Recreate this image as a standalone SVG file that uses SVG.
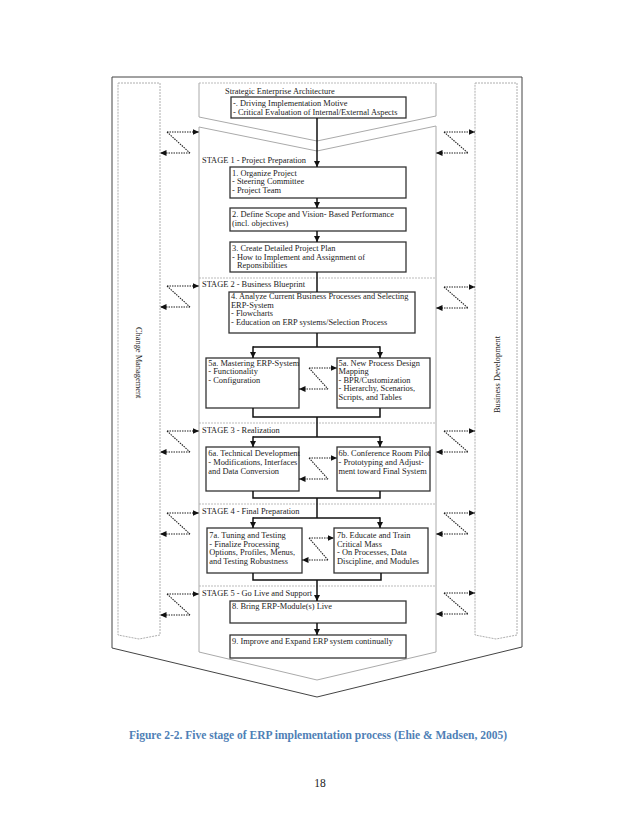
<svg xmlns="http://www.w3.org/2000/svg" width="638" height="826" viewBox="0 0 638 826">
<style>
text{font-family:"Liberation Serif","Times New Roman",serif;font-size:8.4px;fill:#222}
.box{fill:#fff;stroke:#333;stroke-width:1.3}
.chev{fill:none;stroke:#aaa;stroke-width:1}
.col{fill:#fff;stroke:#999;stroke-width:0.8;stroke-dasharray:2 1}
.sep{fill:none;stroke:#aaa;stroke-width:0.8;stroke-dasharray:2 1}
.ln{fill:none;stroke:#111;stroke-width:1.5}
.ar{fill:none;stroke:#111;stroke-width:1.5;marker-end:url(#ah)}
.dt{fill:none;stroke:#222;stroke-width:1.1;stroke-dasharray:1.5 1}
.da{fill:none;stroke:#222;stroke-width:1.1;stroke-dasharray:1.5 1;marker-end:url(#dh)}
.cap{font-size:11.5px;font-weight:bold;fill:#4f7fb6}
</style>
<defs>
<marker id="ah" markerUnits="userSpaceOnUse" markerWidth="7" markerHeight="7" refX="6" refY="3" orient="auto"><path d="M0,0 L6,3 L0,6 z" fill="#111"/></marker>
<marker id="dh" markerUnits="userSpaceOnUse" markerWidth="8" markerHeight="7" refX="6.5" refY="3" orient="auto"><path d="M0,0 L6.5,3 L0,6 z" fill="#111"/></marker>
</defs>
<rect width="638" height="826" fill="#fff"/>

<g id="frame">
<polygon points="112,77 522,77 522,647 317,697 112,648" fill="none" stroke="#444" stroke-width="1"/>
</g>

<g id="change-management">
<polygon class="col" points="118,83 160,83 160,635 139,639 118,635"/>
<text transform="translate(136,327) rotate(90)">Change Management</text>
</g>

<g id="business-development">
<polygon class="col" points="475,83 517,83 517,635 496,639 475,635"/>
<text transform="translate(500,413) rotate(-90)">Business Development</text>
</g>

<g id="strategic">
<line class="sep" x1="199" y1="83" x2="436" y2="83"/>
<polyline class="chev" points="199,83 199,117 317,141 436,116 436,83"/>
<text x="225" y="93.5">Strategic Enterprise Architecture</text>
</g>

<g id="stages">
<polygon class="chev" points="199,127 317,151 436,126 436,652 317,680 199,652"/>
<line class="sep" x1="199" y1="278" x2="436" y2="278"/>
<line class="sep" x1="199" y1="423" x2="436" y2="423"/>
<line class="sep" x1="199" y1="504" x2="436" y2="504"/>
<line class="sep" x1="199" y1="586" x2="436" y2="586"/>
<text x="202" y="163">STAGE 1 - Project Preparation</text>
<text x="202" y="287">STAGE 2 - Business Blueprint</text>
<text x="202" y="433">STAGE 3 - Realization</text>
<text x="202" y="514">STAGE 4 - Final Preparation</text>
<text x="202" y="596">STAGE 5 - Go Live and Support</text>
</g>

<g id="box0">
<rect class="box" x="231" y="97" width="175" height="21"/>
<text x="233" y="106">-. Driving Implementation Motive</text>
<text x="233" y="115">- Critical Evaluation of Internal/External Aspects</text>
</g>

<g id="box1">
<rect class="box" x="230" y="167" width="176" height="31"/>
<text x="232" y="175.5">1. Organize Project</text>
<text x="232" y="184">- Steering Committee</text>
<text x="232" y="192.5">- Project Team</text>
</g>

<g id="box2">
<rect class="box" x="230" y="208" width="176" height="23"/>
<text x="232" y="217">2. Define Scope and Vision- Based Performance</text>
<text x="232" y="225.5">(incl. objectives)</text>
</g>

<g id="box3">
<rect class="box" x="230" y="242" width="176" height="30"/>
<text x="232" y="251">3. Create Detailed Project Plan</text>
<text x="232" y="259.5">- How to Implement and Assignment of</text>
<text x="237" y="268">Reponsibilities</text>
</g>

<g id="box4">
<rect class="box" x="229" y="292" width="186" height="41"/>
<text x="231" y="299">4. Analyze Current Business Processes and Selecting</text>
<text x="231" y="307.5">ERP-System</text>
<text x="231" y="316.3">- Flowcharts</text>
<text x="231" y="325">- Education on ERP systems/Selection Process</text>
</g>

<g id="box5a-left">
<rect class="box" x="206" y="358" width="93" height="50"/>
<text x="208.3" y="365.5">5a. Mastering ERP-System</text>
<text x="208.3" y="374">- Functionality</text>
<text x="208.3" y="382.5">- Configuration</text>
</g>

<g id="box5a-right">
<rect class="box" x="337" y="358" width="93" height="50"/>
<text x="338.5" y="365.5">5a. New Process Design</text>
<text x="338.5" y="374">Mapping</text>
<text x="338.5" y="382.5">- BPR/Customization</text>
<text x="338.5" y="391.2">- Hierarchy, Scenarios,</text>
<text x="338.5" y="400">Scripts, and Tables</text>
</g>

<g id="box6a">
<rect class="box" x="206" y="447" width="93" height="44"/>
<text x="208.3" y="455.5">6a. Technical Development</text>
<text x="208.3" y="464.5">- Modifications, Interfaces</text>
<text x="208.3" y="473.5">and Data Conversion</text>
</g>

<g id="box6b">
<rect class="box" x="337" y="447" width="93" height="44"/>
<text x="338.5" y="455.5">6b. Conference Room Pilot</text>
<text x="338.5" y="464.5">- Prototyping and Adjust-</text>
<text x="338.5" y="473.5">ment toward Final System</text>
</g>

<g id="box7a">
<rect class="box" x="207" y="528" width="95" height="45"/>
<text x="209.3" y="538">7a. Tuning and Testing</text>
<text x="209.3" y="546.5">- Finalize Processing</text>
<text x="209.3" y="555">Options, Profiles, Menus,</text>
<text x="209.3" y="563.5">and Testing Robustness</text>
</g>

<g id="box7b">
<rect class="box" x="334" y="528" width="94" height="45"/>
<text x="337" y="538">7b. Educate and Train</text>
<text x="337" y="546.5">Critical Mass</text>
<text x="337" y="555">- On Processes, Data</text>
<text x="337" y="563.5">Discipline, and Modules</text>
</g>

<g id="box8">
<rect class="box" x="230" y="601" width="176" height="22"/>
<text x="232" y="609">8. Bring ERP-Module(s) Live</text>
</g>

<g id="box9">
<rect class="box" x="230" y="635" width="176" height="23"/>
<text x="232" y="644">9. Improve and Expand ERP system continually</text>
</g>

<g id="connectors">
<line class="ar" x1="317" y1="118" x2="317" y2="167"/>
<line class="ar" x1="317" y1="198" x2="317" y2="208"/>
<line class="ar" x1="317" y1="231" x2="317" y2="242"/>
<line class="ln" x1="317" y1="272" x2="317" y2="292"/>
<polyline class="ln" points="317,333 317,347"/>
<polyline class="ln" points="253,347 380,347"/>
<line class="ar" x1="253" y1="346.3" x2="253" y2="358"/>
<line class="ar" x1="380" y1="346.3" x2="380" y2="358"/>
<polyline class="ln" points="253,408 253,417 380,417 380,408"/>
<line class="ln" x1="317" y1="417" x2="317" y2="437"/>
<polyline class="ln" points="253,437 380,437"/>
<line class="ar" x1="253" y1="436.3" x2="253" y2="447"/>
<line class="ar" x1="380" y1="436.3" x2="380" y2="447"/>
<polyline class="ln" points="253,491 253,498 380,498 380,491"/>
<line class="ln" x1="317" y1="498" x2="317" y2="518"/>
<polyline class="ln" points="253,518 380,518"/>
<line class="ar" x1="253" y1="517.3" x2="253" y2="528"/>
<line class="ar" x1="380" y1="517.3" x2="380" y2="528"/>
<polyline class="ln" points="253,573 253,580 381,580 381,573"/>
<line class="ar" x1="317" y1="580" x2="317" y2="601"/>
<line class="ar" x1="317" y1="623" x2="317" y2="635"/>

<!-- inner dotted exchanges -->
<line class="da" x1="309" y1="368" x2="337" y2="368"/>
<line class="dt" x1="309" y1="368" x2="328" y2="389"/>
<line class="da" x1="328" y1="389" x2="299" y2="389"/>
<line class="da" x1="309" y1="458" x2="337" y2="458"/>
<line class="dt" x1="309" y1="458" x2="328" y2="479"/>
<line class="da" x1="328" y1="479" x2="299" y2="479"/>
<line class="da" x1="309" y1="538" x2="334" y2="538"/>
<line class="dt" x1="309" y1="538" x2="328" y2="560"/>
<line class="da" x1="328" y1="560" x2="302" y2="560"/>

<!-- left dotted exchanges -->
<line class="da" x1="167" y1="132" x2="199" y2="132"/>
<line class="dt" x1="167" y1="132" x2="190" y2="153"/>
<line class="da" x1="190" y1="153" x2="160" y2="153"/>
<line class="da" x1="167" y1="286" x2="199" y2="286"/>
<line class="dt" x1="167" y1="286" x2="190" y2="307"/>
<line class="da" x1="190" y1="307" x2="160" y2="307"/>
<line class="da" x1="167" y1="431" x2="199" y2="431"/>
<line class="dt" x1="167" y1="431" x2="190" y2="452"/>
<line class="da" x1="190" y1="452" x2="160" y2="452"/>
<line class="da" x1="167" y1="513" x2="199" y2="513"/>
<line class="dt" x1="167" y1="513" x2="190" y2="534"/>
<line class="da" x1="190" y1="534" x2="160" y2="534"/>
<line class="da" x1="167" y1="594" x2="199" y2="594"/>
<line class="dt" x1="167" y1="594" x2="190" y2="615"/>
<line class="da" x1="190" y1="615" x2="160" y2="615"/>

<!-- right dotted exchanges -->
<line class="da" x1="444" y1="132" x2="475" y2="132"/>
<line class="dt" x1="444" y1="132" x2="468" y2="153"/>
<line class="da" x1="468" y1="153" x2="436" y2="153"/>
<line class="da" x1="444" y1="287" x2="475" y2="287"/>
<line class="dt" x1="444" y1="287" x2="468" y2="308"/>
<line class="da" x1="468" y1="308" x2="436" y2="308"/>
<line class="da" x1="444" y1="431" x2="475" y2="431"/>
<line class="dt" x1="444" y1="431" x2="468" y2="452"/>
<line class="da" x1="468" y1="452" x2="436" y2="452"/>
<line class="da" x1="444" y1="513" x2="475" y2="513"/>
<line class="dt" x1="444" y1="513" x2="468" y2="534"/>
<line class="da" x1="468" y1="534" x2="436" y2="534"/>
<line class="da" x1="444" y1="593" x2="475" y2="593"/>
<line class="dt" x1="444" y1="593" x2="468" y2="614"/>
<line class="da" x1="468" y1="614" x2="436" y2="614"/>
</g>

<g id="caption">
<text class="cap" x="318" y="739" text-anchor="middle" textLength="378" lengthAdjust="spacingAndGlyphs">Figure 2-2. Five stage of ERP implementation process (Ehie &amp; Madsen, 2005)</text>
<text x="320" y="787" text-anchor="middle" style="font-size:11.5px">18</text>
</g>
</svg>
